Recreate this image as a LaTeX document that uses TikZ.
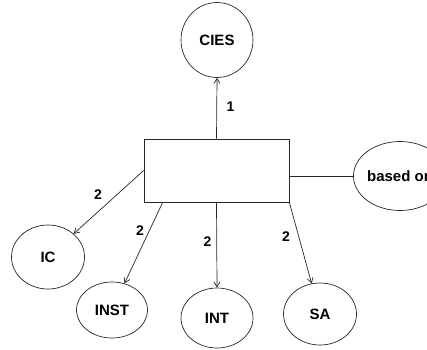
\documentclass[tikz,border=0pt]{standalone}
\usepackage{fontspec}
\setmainfont{Liberation Sans}
\usetikzlibrary{shapes.geometric,arrows.meta}
\begin{document}
\begin{tikzpicture}[x=1pt,y=-1pt,
  line width=0.7pt, draw=black!85,
  bubble/.style={ellipse, draw, inner sep=0pt, font=\bfseries\fontsize{15}{17}\selectfont},
  arr/.style={draw, -{Straight Barb[length=5pt,width=6pt]}},
  lab/.style={font=\bfseries\fontsize{14}{16}\selectfont, inner sep=0pt}]
\useasboundingbox (0,0) rectangle (427,349);
\node[draw, minimum width=145pt, minimum height=63pt, inner sep=0pt] (rect) at (216.5,170.5) {};
\node[bubble, minimum width=72pt, minimum height=75pt] (cies) at (217,40) {CIES};
\node[bubble, minimum width=78pt, minimum height=69pt] (based) at (400,176) {based on};
\node[bubble, minimum width=73pt, minimum height=64pt] (ic) at (48,257) {IC};
\node[bubble, minimum width=71pt, minimum height=56pt] (inst) at (112,310) {INST};
\node[bubble, minimum width=72pt, minimum height=60pt] (int) at (217,318) {INT};
\node[bubble, minimum width=73pt, minimum height=62pt] (sa) at (320,314) {SA};
\draw[arr] (rect.north) -- (cies.south);
\draw (rect.east |- based) -- (based);
\draw[arr] (rect.west) -- (ic);
\draw[arr] ([xshift=19pt]rect.south west) -- (inst);
\draw[arr] (rect.south) -- (int.north);
\draw[arr] (rect.south east) -- (sa);
\node[lab] (l1) at (230.5,107) {1};
\node[lab] (l2) at (98,195) {2};
\node[lab] (l3) at (140,231) {2};
\node[lab] (l4) at (207.5,241.5) {2};
\node[lab] (l5) at (286,236.5) {2};
\end{tikzpicture}
\end{document}
